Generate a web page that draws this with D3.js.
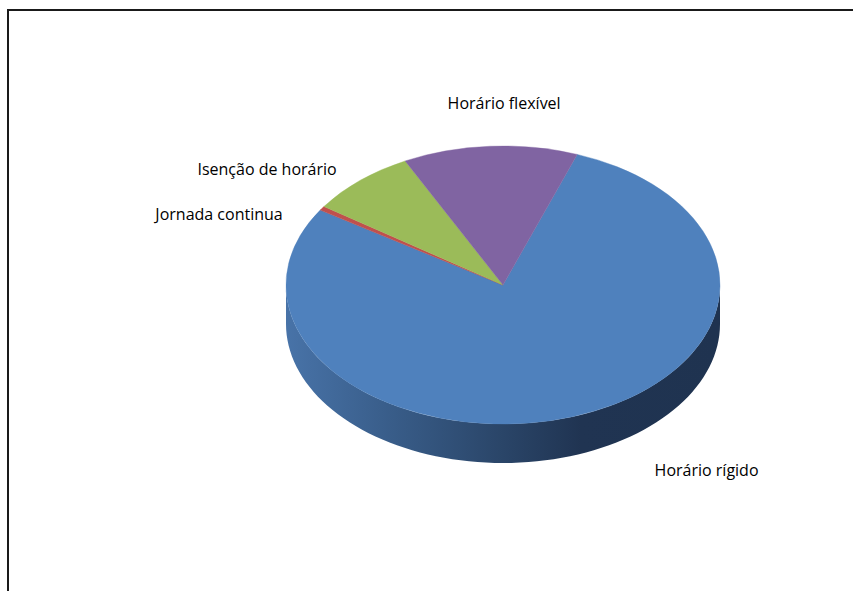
<!DOCTYPE html>
<html>
<head>
<meta charset="utf-8">
<script src="https://cdn.jsdelivr.net/npm/d3@7"></script>
<style>
  html, body { margin: 0; padding: 0; background: #fff; }
  svg { display: block; }
  text { font-family: "Open Sans", "Noto Sans", sans-serif; fill: #000; }
</style>
</head>
<body>
<svg id="chart" width="853" height="591"></svg>
<script>
// ---- data ----
const categories = ["Horário rígido", "Jornada continua", "Isenção de horário", "Horário flexível"];
const values = [157, 1, 16, 26];
const colors = ["#4F81BD", "#C0504D", "#9BBB59", "#8064A2"];

// ---- layout ----
const W = 853, H = 591;
const cx = 503, cy = 285, rx = 217, ry = 139, depth = 39;
const startDeg = 20;
const labelOffsets = [[134, 53], [-103, 6], [-93, -11.5], [14, -43]];

const svg = d3.select("#chart");

// frame
svg.append("rect")
  .attr("x", 8).attr("y", 10)
  .attr("width", W + 40).attr("height", H + 40)
  .attr("fill", "none").attr("stroke", "#1a1a1a").attr("stroke-width", 2);

const pie = d3.pie().sort(null).value(d => d)
  .startAngle(startDeg * Math.PI / 180)
  .endAngle(startDeg * Math.PI / 180 + 2 * Math.PI);
const arcsData = pie(values);

// side gradient
const defs = svg.append("defs");
const grad = defs.append("linearGradient").attr("id", "sideGrad")
  .attr("gradientUnits", "userSpaceOnUse")
  .attr("x1", cx - rx).attr("x2", cx + rx).attr("y1", 0).attr("y2", 0);
[[0, "#4873a8"], [0.25, "#385c88"], [0.5, "#2a4568"], [0.68, "#203452"], [1, "#1f3350"]]
  .forEach(([o, c]) => grad.append("stop").attr("offset", o).attr("stop-color", c));

// ellipse point for angle (clockwise from 12 o'clock)
const ex = a => cx + rx * Math.sin(a);
const ey = a => cy - ry * Math.cos(a);

// side walls (front half: angles between PI/2 and 3PI/2, modulo 2PI)
const sideG = svg.append("g");
const line = d3.line().x(p => p[0]).y(p => p[1]);
arcsData.forEach((d, i) => {
  [0, 2 * Math.PI, -2 * Math.PI].forEach(shift => {
    const a0 = Math.max(d.startAngle + shift, Math.PI / 2);
    const a1 = Math.min(d.endAngle + shift, 3 * Math.PI / 2);
    if (a1 <= a0) return;
    const n = 80;
    const top = d3.range(n + 1).map(k => a0 + (a1 - a0) * k / n);
    const pts = top.map(a => [ex(a), ey(a)])
      .concat(top.slice().reverse().map(a => [ex(a), ey(a) + depth]));
    sideG.append("path")
      .attr("d", line(pts) + "Z")
      .attr("fill", i === 0 ? "url(#sideGrad)" : d3.color(colors[i]).darker(1.2))
      .attr("stroke", "none");
  });
});

// top face
const arc = d3.arc().innerRadius(0).outerRadius(rx);
svg.append("g")
  .attr("transform", `translate(${cx},${cy}) scale(1,${ry / rx})`)
  .selectAll("path")
  .data(arcsData)
  .join("path")
  .attr("d", arc)
  .attr("fill", (d, i) => colors[i])
  .attr("stroke", (d, i) => colors[i])
  .attr("stroke-width", 0.5);

// labels
svg.append("g").selectAll("text")
  .data(arcsData)
  .join("text")
  .attr("x", (d, i) => ex((d.startAngle + d.endAngle) / 2) + labelOffsets[i][0])
  .attr("y", (d, i) => ey((d.startAngle + d.endAngle) / 2) + labelOffsets[i][1])
  .attr("text-anchor", "middle")
  .attr("dominant-baseline", "central")
  .attr("font-size", 16)
  .text((d, i) => categories[i]);
</script>
</body>
</html>
